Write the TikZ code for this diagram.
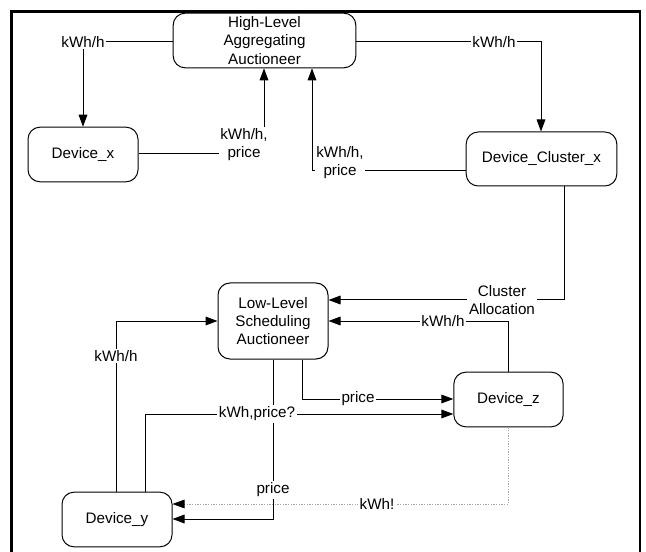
\documentclass[tikz,border=0pt]{standalone}
\usepackage{fontspec}
\setmainfont{Liberation Sans}
\usetikzlibrary{arrows.meta}
\begin{document}
\begin{tikzpicture}[x=0.75pt,y=-0.75pt,
  font=\fontsize{11.4}{13.6}\selectfont,
  box/.style={draw,line width=0.75pt,rounded corners=9pt,align=center,inner sep=0pt},
  lbl/.style={fill=white,inner sep=1.2pt,align=center},
  arr/.style={line width=0.75pt,-{Triangle[length=9pt,width=6.5pt]}},
  dotarr/.style={line width=0.5pt,gray!70,dash pattern=on 1pt off 1pt,
    -{Triangle[length=9pt,width=6.5pt,black]}}]
\useasboundingbox (0,0) rectangle (646,552);
% outer frame
\draw[line width=1.7pt] (11.5,560) -- (11.5,11.5) -- (640,11.5) -- (640,560);

% boxes
\node[box,minimum width=137pt,minimum height=41pt] (HL) at (264.5,40.5) {High-Level\\Aggregating\\Auctioneer};
\node[box,minimum width=82.5pt,minimum height=41pt] (Dx) at (83,154.5) {Device\_x};
\node[box,minimum width=113pt,minimum height=40.5pt] (DCx) at (541.5,159) {Device\_Cluster\_x};
\node[box,minimum width=82.5pt,minimum height=57pt] (LL) at (273,321) {Low-Level\\Scheduling\\Auctioneer};
\node[box,minimum width=82pt,minimum height=41pt] (Dz) at (508.5,399.5) {Device\_z};
\node[box,minimum width=82.5pt,minimum height=41pt] (Dy) at (117,519.5) {Device\_y};

% bend points
\coordinate (c1) at (83,42);
\coordinate (c2) at (264,154);
\coordinate (c3) at (312,171);
\coordinate (c4) at (564,300);
\coordinate (c5) at (541,42);
\coordinate (c6) at (508.5,321);
\coordinate (c7) at (302,399);
\coordinate (c8) at (273,519);
\coordinate (c9) at (145,414);
\coordinate (c10) at (116,321);
\coordinate (c11) at (508.5,504);

% connectors
\draw[arr] (HL.west |- c1) -- (c1) -- (Dx.north);
\draw[arr] (Dx.east |- c2) -- (c2) -- (c2 |- HL.south);
\draw[arr] (DCx.west |- c3) -- (c3) -- (c3 |- HL.south);
\draw[arr] (HL.east |- c5) -- (c5) -- (c5 |- DCx.north);
\draw[arr] (c4 |- DCx.south) -- (c4) -- (LL.east |- c4);
\draw[arr] (Dz.north) -- (c6) -- (LL.east |- c6);
\draw[arr] (c7 |- LL.south) -- (c7) -- (Dz.west |- c7);
\draw[arr] (LL.south) -- (c8) -- (Dy.east |- c8);
\draw[arr] (c9 |- Dy.north) -- (c9) -- (Dz.west |- c9);
\draw[arr] (c10 |- Dy.north) -- (c10) -- (LL.west |- c10);
\draw[dotarr] (Dz.south) -- (c11) -- (Dy.east |- c11);

% connector labels
\node[lbl] (l1) at (c1) {kWh/h};
\node[lbl] (l2) at (244,145) {kWh/h,\\price};
\node[lbl] (l3) at (340,163) {kWh/h,\\price};
\node[lbl] (l5) at (494,42) {kWh/h};
\node[lbl] (l4) at (502,300) {Cluster\\Allocation};
\node[lbl] (l6) at (443,321) {kWh/h};
\node[lbl] (l7) at (358,399) {price};
\node[lbl] (l8) at (273,490) {price};
\node[lbl] (l9) at (257,414) {kWh,price?};
\node[lbl] (l10) at (116,356) {kWh/h};
\node[lbl] (l11) at (377,504) {kWh!};
\end{tikzpicture}
\end{document}
